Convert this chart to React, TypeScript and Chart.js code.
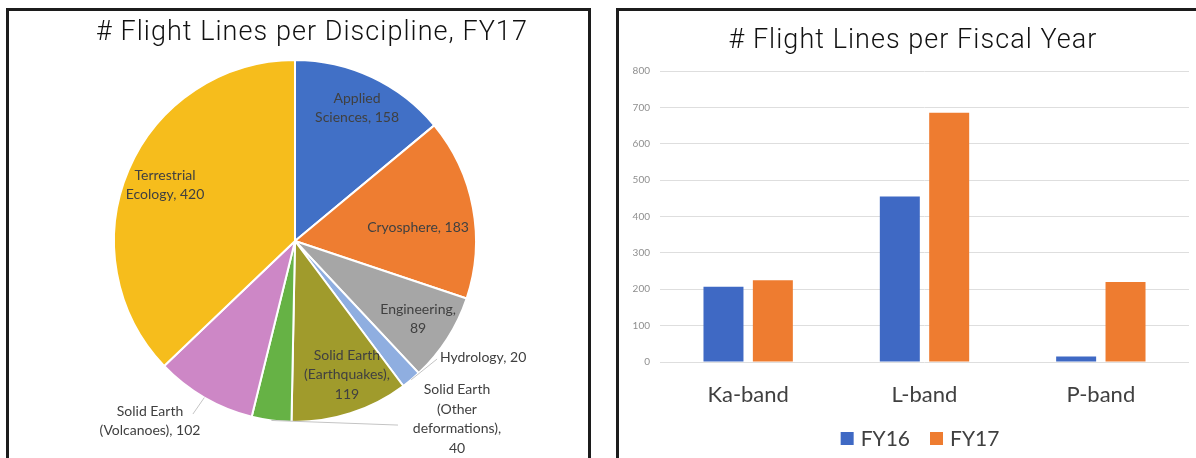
import React, { useEffect, useRef } from "react";
import { Chart, registerables } from "chart.js";

Chart.register(...registerables);

// ---------- Data ----------
const disciplines = [
  "Applied Sciences",
  "Cryosphere",
  "Engineering",
  "Hydrology",
  "Solid Earth (Earthquakes)",
  "Solid Earth (Other deformations)",
  "Solid Earth (Volcanoes)",
  "Terrestrial Ecology",
];
const flightLinesFY17 = [158, 183, 89, 20, 119, 40, 102, 420];

const bands = ["Ka-band", "L-band", "P-band"];
const seriesNames = ["FY16", "FY17"];
const fy16Values = [207, 455, 15];
const fy17Values = [225, 685, 220];
const yTickMin = 0;
const yTickMax = 800;
const yTickStep = 100;

// ---------- Styles / layout (kept separate from data) ----------
const pieColors = [
  "#4170C6",
  "#EE7D31",
  "#A6A6A6",
  "#8FAEE0",
  "#A09B2C",
  "#66B245",
  "#CD87C6",
  "#F6BD1C",
];
const barColors = ["#3F69C4", "#EE7C30"];

// how each pie label is wrapped ("#" is replaced by the value)
const pieLabelLines = [
  ["Applied", "Sciences, #"],
  ["Cryosphere, #"],
  ["Engineering,", "#"],
  ["Hydrology, #"],
  ["Solid Earth", "(Earthquakes),", "#"],
  ["Solid Earth", "(Other", "deformations),", "#"],
  ["Solid Earth", "(Volcanoes), #"],
  ["Terrestrial", "Ecology, #"],
];
// label block centre, in units of the pie radius, relative to the pie centre
const pieLabelPos = [
  { dx: 0.343, dy: -0.735, align: "center", leader: null },
  { dx: 0.68, dy: -0.072, align: "center", leader: null },
  { dx: 0.68, dy: 0.431, align: "center", leader: null },
  { dx: 0.801, dy: 0.641, align: "left", leader: [0.785, 0.652] },
  { dx: 0.287, dy: 0.74, align: "center", leader: null },
  { dx: 0.895, dy: 0.983, align: "center", leader: [0.569, 1.017] },
  { dx: -0.801, dy: 0.994, align: "center", leader: [-0.564, 0.956] },
  { dx: -0.718, dy: -0.309, align: "center", leader: null },
];

const titlePlugin = {
  id: "fixedTitle",
  afterDraw(chart: any, _args: any, opts: any) {
    const ctx = chart.ctx;
    ctx.save();
    ctx.font = `${opts.weight || "normal"} ${opts.size}px ${opts.family}`;
    ctx.fillStyle = opts.color;
    ctx.textAlign = "center";
    ctx.textBaseline = "alphabetic";
    (ctx as any).letterSpacing = opts.letterSpacing || "0px";
    ctx.fillText(opts.text, opts.x, opts.y);
    ctx.restore();
  },
};

const pieLabelPlugin = {
  id: "pieLabels",
  afterDatasetsDraw(chart: any, _args: any, opts: any) {
    const ctx = chart.ctx;
    const meta = chart.getDatasetMeta(0);
    const values = chart.data.datasets[0].data;
    ctx.save();
    ctx.font = `${opts.size}px ${opts.family}`;
    ctx.textBaseline = "middle";
    meta.data.forEach((arc: any, i: number) => {
      const { x, y, outerRadius, startAngle, endAngle } = arc.getProps(
        ["x", "y", "outerRadius", "startAngle", "endAngle"],
        true
      );
      const pos = pieLabelPos[i];
      const lines = pieLabelLines[i].map((l) => l.replace("#", String(values[i])));
      const cx = x + pos.dx * outerRadius;
      const cy = y + pos.dy * outerRadius;
      if (pos.leader) {
        const mid = (startAngle + endAngle) / 2;
        ctx.strokeStyle = opts.leaderColor;
        ctx.lineWidth = 1;
        ctx.beginPath();
        ctx.moveTo(x + Math.cos(mid) * outerRadius, y + Math.sin(mid) * outerRadius);
        ctx.lineTo(x + pos.leader[0] * outerRadius, y + pos.leader[1] * outerRadius);
        ctx.stroke();
      }
      ctx.fillStyle = opts.color;
      ctx.textAlign = pos.align;
      const lh = opts.lineHeight;
      const top = cy - ((lines.length - 1) * lh) / 2;
      lines.forEach((line, k) => ctx.fillText(line, cx, top + k * lh));
    });
    ctx.restore();
  },
};

const boxLegendPlugin = {
  id: "boxLegend",
  afterDraw(chart: any, _args: any, opts: any) {
    const ctx = chart.ctx;
    ctx.save();
    ctx.font = `${opts.size}px ${opts.family}`;
    ctx.textBaseline = "middle";
    ctx.textAlign = "left";
    const items = chart.data.datasets.map((ds: any) => ({
      text: ds.label,
      color: ds.backgroundColor,
    }));
    const widths = items.map(
      (it: any) => opts.box + opts.gap + ctx.measureText(it.text).width
    );
    const total =
      widths.reduce((a: number, b: number) => a + b, 0) + opts.spacing * (items.length - 1);
    let x = opts.cx - total / 2;
    items.forEach((it: any, i: number) => {
      ctx.fillStyle = it.color;
      ctx.fillRect(x, opts.cy - opts.box / 2, opts.box, opts.box);
      ctx.fillStyle = opts.color;
      ctx.fillText(it.text, x + opts.box + opts.gap, opts.cy + 1);
      x += widths[i] + opts.spacing;
    });
    ctx.restore();
  },
};

const titleFamily = "Roboto, 'Liberation Sans', Arial, sans-serif";

export default function App() {
  const pieRef = useRef<HTMLCanvasElement>(null);
  const barRef = useRef<HTMLCanvasElement>(null);

  useEffect(() => {
    const pie = new Chart(pieRef.current as HTMLCanvasElement, {
      type: "pie",
      data: {
        labels: disciplines,
        datasets: [
          {
            data: flightLinesFY17,
            backgroundColor: pieColors,
            borderColor: "#ffffff",
            borderWidth: 2,
          },
        ],
      },
      options: {
        responsive: false,
        maintainAspectRatio: false,
        animation: false,
        devicePixelRatio: 1,
        layout: { padding: { left: 86, right: 93, top: 48, bottom: 35 } },
        plugins: {
          legend: { display: false },
          title: { display: false },
          tooltip: { enabled: false },
          fixedTitle: {
            text: "# Flight Lines per Discipline, FY17",
            x: 303,
            y: 29,
            size: 27,
            weight: 300,
            letterSpacing: "1.05px",
            family: titleFamily,
            color: "#111111",
          },
          pieLabels: {
            size: 14,
            family: "Lato, 'Open Sans', sans-serif",
            color: "#404040",
            lineHeight: 19.5,
            leaderColor: "#c4c4c4",
          },
        } as any,
      },
      plugins: [pieLabelPlugin, titlePlugin],
    });

    const bar = new Chart(barRef.current as HTMLCanvasElement, {
      type: "bar",
      data: {
        labels: bands,
        datasets: [
          {
            label: seriesNames[0],
            data: fy16Values,
            backgroundColor: barColors[0],
            categoryPercentage: 0.56,
            barPercentage: 0.81,
          },
          {
            label: seriesNames[1],
            data: fy17Values,
            backgroundColor: barColors[1],
            categoryPercentage: 0.56,
            barPercentage: 0.81,
          },
        ],
      },
      options: {
        responsive: false,
        maintainAspectRatio: false,
        animation: false,
        devicePixelRatio: 1,
        layout: { padding: { left: 0, right: 7, top: 60, bottom: 0 } },
        scales: {
          y: {
            min: yTickMin,
            max: yTickMax,
            ticks: {
              stepSize: yTickStep,
              font: { size: 10, family: "Lato, sans-serif" },
              color: "#8f8f8f",
              padding: 10,
            },
            grid: { color: "#dedede", drawTicks: false, lineWidth: 1 },
            border: { display: false },
            afterFit(scale: any) {
              scale.width = 41;
            },
          },
          x: {
            ticks: {
              font: { size: 22, family: "Lato, sans-serif" },
              color: "#404040",
              padding: 20,
            },
            grid: { display: false, drawTicks: false },
            border: { display: false },
            afterFit(scale: any) {
              scale.height = 96;
            },
          },
        },
        plugins: {
          legend: { display: false },
          title: { display: false },
          tooltip: { enabled: false },
          fixedTitle: {
            text: "# Flight Lines per Fiscal Year",
            x: 294,
            y: 37,
            size: 27,
            weight: 300,
            letterSpacing: "1.05px",
            family: titleFamily,
            color: "#111111",
          },
          boxLegend: {
            cx: 301,
            cy: 427.5,
            box: 13,
            gap: 7,
            spacing: 20,
            size: 21,
            family: "Lato, sans-serif",
            color: "#404040",
          },
        } as any,
      },
      plugins: [titlePlugin, boxLegendPlugin],
    });

    return () => {
      pie.destroy();
      bar.destroy();
    };
  }, []);

  return (
    <div
      style={{
        position: "absolute",
        left: 0,
        top: 0,
        width: 1196,
        height: 458,
        overflow: "hidden",
        background: "#ffffff",
      }}
    >
      <div
        style={{
          position: "absolute",
          left: 6,
          top: 8,
          width: 579,
          height: 480,
          border: "3px solid #1c1c1c",
        }}
      />
      <div
        style={{
          position: "absolute",
          left: 616,
          top: 8,
          width: 620,
          height: 480,
          border: "3px solid #1c1c1c",
        }}
      />
      <canvas
        ref={pieRef}
        width={579}
        height={447}
        style={{ position: "absolute", left: 9, top: 11 }}
      />
      <canvas
        ref={barRef}
        width={577}
        height={447}
        style={{ position: "absolute", left: 619, top: 11 }}
      />
    </div>
  );
}
